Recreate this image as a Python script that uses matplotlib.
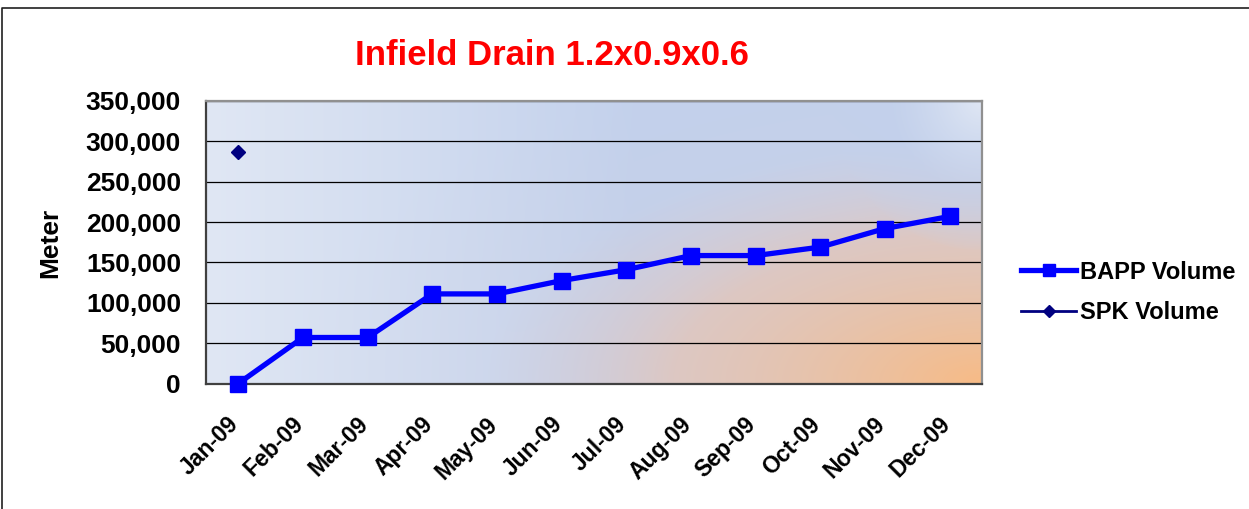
import numpy as np
import matplotlib
matplotlib.use('Agg')
import matplotlib.pyplot as plt
from matplotlib.lines import Line2D
from matplotlib.colors import to_rgb
from matplotlib.transforms import ScaledTranslation

plt.rcParams['font.family'] = ['Liberation Sans', 'DejaVu Sans']
plt.rcParams['font.weight'] = 'bold'

# data
months = ['Jan-09', 'Feb-09', 'Mar-09', 'Apr-09', 'May-09', 'Jun-09',
          'Jul-09', 'Aug-09', 'Sep-09', 'Oct-09', 'Nov-09', 'Dec-09']
bapp_volume = [0, 57000, 57000, 111000, 111000, 127500,
               141000, 158500, 158500, 169000, 192000, 207000]
spk_volume = [287000, np.nan, np.nan, np.nan, np.nan, np.nan,
              np.nan, np.nan, np.nan, np.nan, np.nan, np.nan]
yticks = [0, 50000, 100000, 150000, 200000, 250000, 300000, 350000]


def background(w=776, h=283):
    # blue wash from the left, warm orange glow from the bottom right corner
    px = np.arange(w)[None, :].astype(float)
    py = np.arange(h)[:, None].astype(float)   # row 0 = top
    light = np.array(to_rgb('#e0e7f4'))
    blue = np.array(to_rgb('#c3d1ec'))
    pink = np.array(to_rgb('#d6cbd3'))
    orange = np.array(to_rgb('#f7bb86'))

    t = np.clip(px / (0.55 * w), 0, 1)[..., None]
    base = np.broadcast_to(light + (blue - light) * t, (h, w, 3))

    u = (w - 1 - px) / w
    v = (h - 1 - py) / h
    d = np.sqrt((u / 0.64) ** 2 + (v / 0.85) ** 2)
    a = np.clip(1 - d, 0, 1)
    warm = pink + (orange - pink) * (a ** 1.6)[..., None]
    s = np.clip(a * 2.2 + 0.3 * np.clip(1 - d / 1.4, 0, 1), 0, 1)[..., None]
    img = base * (1 - s) + warm * s

    # top right corner: light at the corner, blue ring around it
    rtr = np.sqrt((w - 1 - px) ** 2 + py ** 2) / 150
    k = np.clip(rtr / 0.6, 0, 1)[..., None]
    ring = light * (1 - k) + blue * k
    b = (np.clip(1 - rtr, 0, 1) ** 0.6)[..., None]
    img = img * (1 - b) + ring * b
    return img


fig = plt.figure(figsize=(12.49, 5.09), dpi=100)
ax = fig.add_axes([206 / 1249, 1 - 383.5 / 509, 776 / 1249, 282.5 / 509])

x = np.arange(len(months))
ax.imshow(background(), extent=[0, 1, 0, 1], transform=ax.transAxes,
          aspect='auto', zorder=0.1, interpolation='bilinear')

ax.plot(x, bapp_volume, color='#0000ff', lw=3.8, marker='s', ms=11,
        label='BAPP Volume', zorder=3, clip_on=False)
ax.plot(x, spk_volume, color='#000080', lw=2, marker='D', ms=7.5,
        label='SPK Volume', zorder=3, clip_on=False)

ax.set_xlim(-0.5, 11.5)
ax.set_ylim(0, 350000)
ax.set_xticks(x)
ax.set_xticklabels(months, rotation=45, ha='right', fontsize=16.5)
ax.set_yticks(yticks)
ax.set_yticklabels(['{:,}'.format(v) for v in yticks], fontsize=19)
ax.tick_params(axis='y', length=0, pad=18)
ax.tick_params(axis='x', length=0, pad=21)
shift = ScaledTranslation(5 / 100, 0, fig.dpi_scale_trans)
for lab in ax.get_xticklabels():
    lab.set_transform(lab.get_transform() + shift)

ax.set_axisbelow(True)
ax.yaxis.grid(True, color='black', lw=0.9)

for side in ['left', 'bottom']:
    ax.spines[side].set_color('#404040')
    ax.spines[side].set_linewidth(1.6)
for side in ['top', 'right']:
    ax.spines[side].set_color('#909090')
    ax.spines[side].set_linewidth(1.6)

fig.text(551.7 / 1249, 1 - 65 / 509, 'Infield Drain 1.2x0.9x0.6', color='#ff0000',
         fontsize=25, fontweight='bold', ha='center', va='baseline')
fig.text(50 / 1249, 1 - 242.5 / 509, 'Meter', rotation=90, fontsize=19,
         fontweight='bold', ha='center', va='center')

fig.legend(loc='center left', bbox_to_anchor=(1021 / 1249, 1 - 292.5 / 509),
           frameon=False, fontsize=17, handlelength=2.33, handletextpad=0.17,
           labelspacing=0.75, borderpad=0, borderaxespad=0, markerscale=0.8)

# outer chart border (left and top edges only)
fig.add_artist(Line2D([1.5 / 1249, 1.5 / 1249, 1], [0, 1 - 7.5 / 509, 1 - 7.5 / 509],
                      transform=fig.transFigure, color='#202020', lw=1.2))

fig.savefig('out.png', dpi=100)
